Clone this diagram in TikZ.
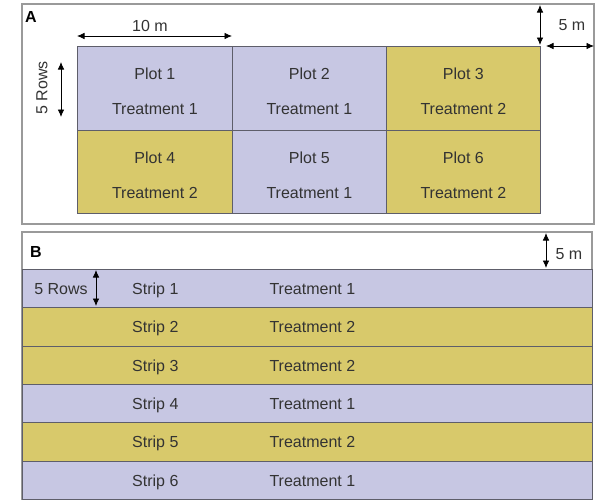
\documentclass[tikz,border=0pt]{standalone}
\usepackage{fontspec}
\setmainfont{Liberation Sans}
\usetikzlibrary{arrows.meta,calc}
\definecolor{lav}{HTML}{C7C7E3}
\definecolor{oli}{HTML}{D8C96B}
\definecolor{frame}{HTML}{9A9A9A}
\definecolor{cellline}{HTML}{5E5E6A}
\definecolor{txt}{HTML}{333333}
\tikzset{
  panel/.style={draw=frame, line width=1.1pt},
  cell/.style={draw=cellline, line width=0.7pt, anchor=north west, inner sep=0pt},
  lab/.style={text=txt, font=\fontsize{16}{35}\selectfont, align=center, inner sep=0pt},
  plab/.style={text=black, font=\bfseries\fontsize{16}{18}\selectfont, inner sep=0pt},
  dim/.style={{Latex[length=7.5pt,width=6.5pt]}-{Latex[length=7.5pt,width=6.5pt]}, line width=0.8pt, black},
}
\begin{document}
\begin{tikzpicture}[x=1pt,y=-1pt]
\useasboundingbox (0,0) rectangle (606,504);
% ---------- Panel A ----------
\draw[panel] (22,4) rectangle (594,224);
\node[plab, anchor=base west] (la) at (25,22) {A};
% plots
\node[cell, fill=lav, minimum width=155pt, minimum height=84pt] (p1) at (77,46) {};
\node[cell, fill=lav, minimum width=154pt, minimum height=84pt] (p2) at (232,46) {};
\node[cell, fill=oli, minimum width=154pt, minimum height=84pt] (p3) at (386,46) {};
\node[cell, fill=oli, minimum width=155pt, minimum height=83pt] (p4) at (77,130) {};
\node[cell, fill=lav, minimum width=154pt, minimum height=83pt] (p5) at (232,130) {};
\node[cell, fill=oli, minimum width=154pt, minimum height=83pt] (p6) at (386,130) {};
\node[lab] at ($(p1.center)+(0,3)$) {Plot 1\\Treatment 1};
\node[lab] at ($(p2.center)+(0,3)$) {Plot 2\\Treatment 1};
\node[lab] at ($(p3.center)+(0,3)$) {Plot 3\\Treatment 2};
\node[lab] at ($(p4.center)+(0,3)$) {Plot 4\\Treatment 2};
\node[lab] at ($(p5.center)+(0,3)$) {Plot 5\\Treatment 1};
\node[lab] at ($(p6.center)+(0,3)$) {Plot 6\\Treatment 2};
% 10 m
\coordinate (tmL) at (77,36);
\coordinate (tmR) at (232,36);
\draw[dim] (tmL) -- (tmR);
\node[lab] (tm) at (150,26) {10 m};
% 5 Rows vertical
\coordinate (rT) at (61,62);
\coordinate (rB) at (61,117);
\draw[dim] (rT) -- (rB);
\node[lab, rotate=90] (rows) at (42,88) {5 Rows};
% 5 m top right
\coordinate (mT) at (540,5);
\coordinate (mB) at (540,45);
\draw[dim] (mT) -- (mB);
\coordinate (mL) at (546,46);
\coordinate (mR) at (594,46);
\draw[dim] (mL) -- (mR);
\node[lab] (fm) at (572,25) {5 m};
% ---------- Panel B ----------
\draw[panel] (22,232) rectangle (592,499);
\node[plab, anchor=base west] (lb) at (30,257) {B};
\foreach \i/\c/\t in {1/lav/1,2/oli/2,3/oli/2,4/lav/1,5/oli/2,6/lav/1}{
  \node[cell, fill=\c, minimum width=570pt, minimum height=38.33pt] (s\i) at (22,{269+(\i-1)*38.33}) {};
  \node[lab, anchor=base] (sl\i) at ($(s\i.center)+(-152,6)$) {Strip \i};
  \node[lab, anchor=base west] (st\i) at ($(s\i.center)+(-38,6)$) {Treatment \t};
}
\node[lab, anchor=base] (rows2) at ($(s1.west)+(39,6)$) {5 Rows};
\coordinate (bT) at (96,270);
\coordinate (bB) at (96,306);
\draw[dim] (bT) -- (bB);
\coordinate (bmT) at (546,233);
\coordinate (bmB) at (546,268);
\draw[dim] (bmT) -- (bmB);
\node[lab] (fm2) at (569,254) {5 m};
\end{tikzpicture}
\end{document}
